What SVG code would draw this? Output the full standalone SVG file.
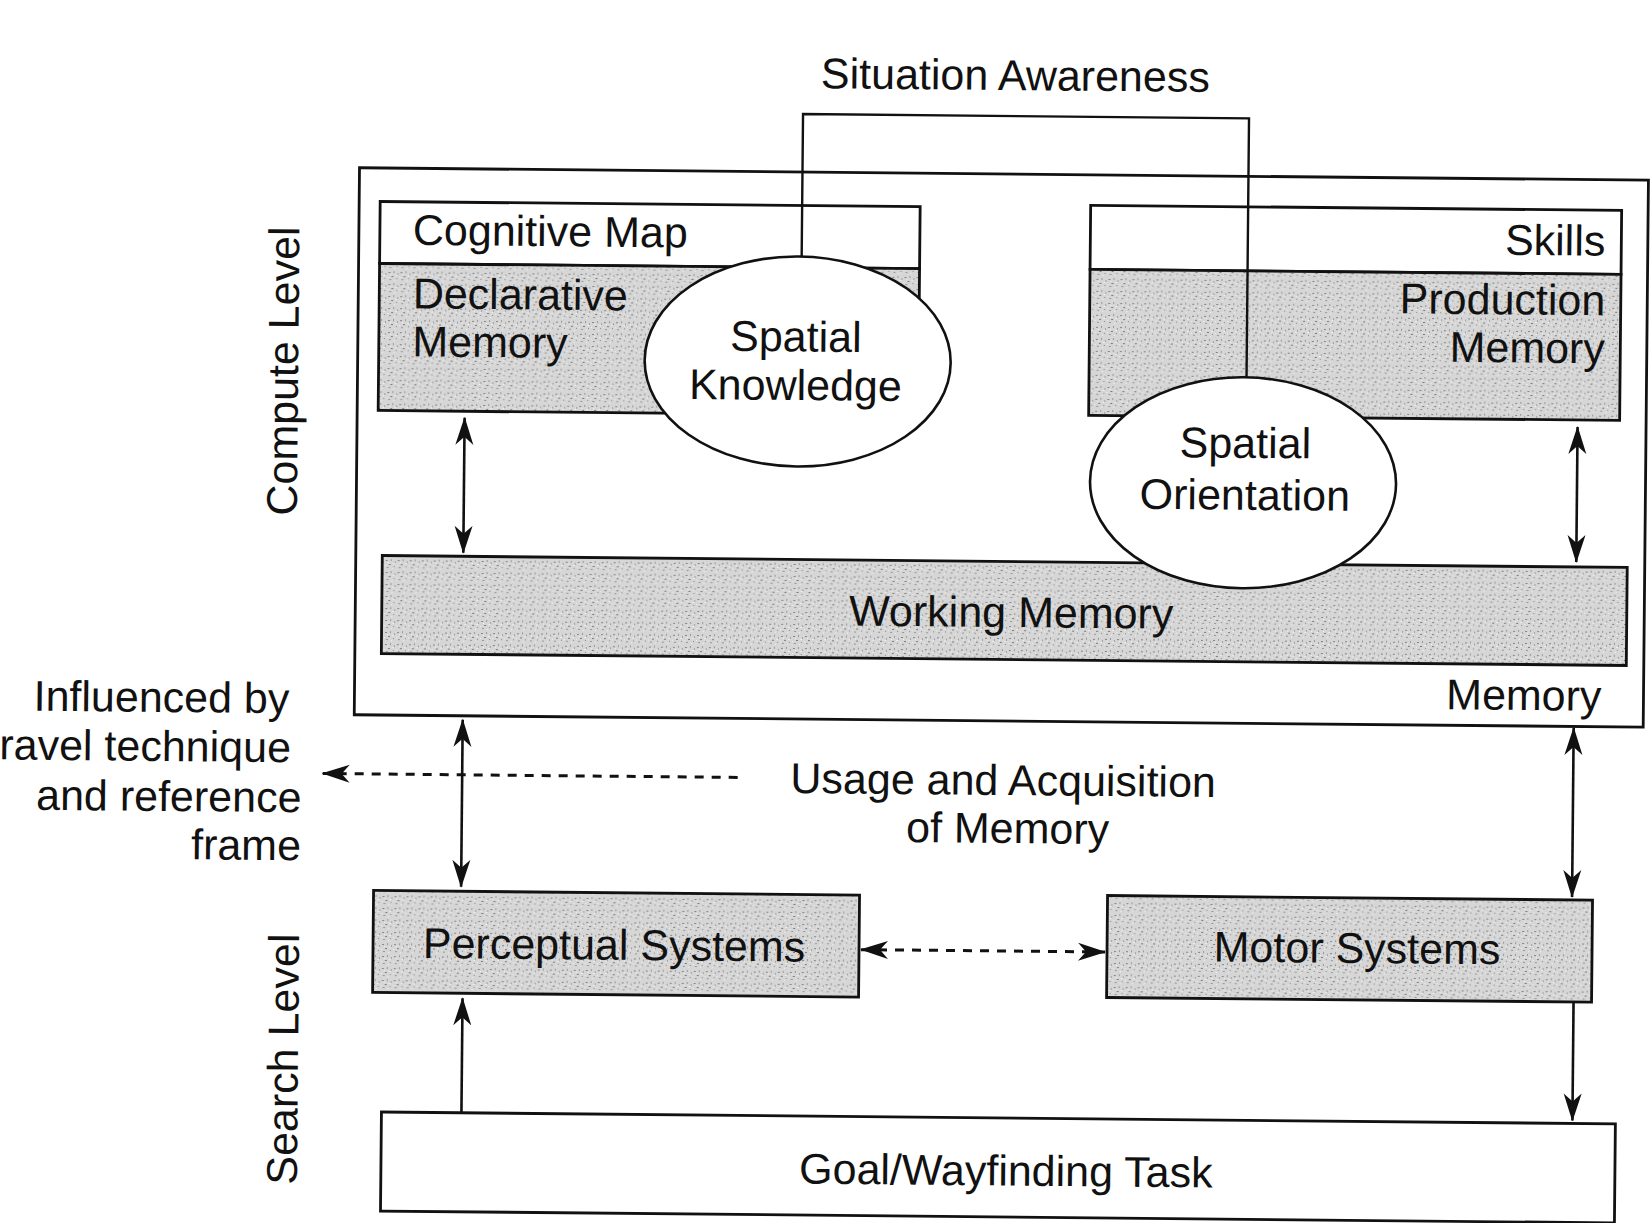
<svg xmlns="http://www.w3.org/2000/svg" width="1652" height="1223" viewBox="0 0 1652 1223">
  <style>
    .t { font-family: "Liberation Sans", Arial, Helvetica, sans-serif; font-size: 43px; fill: #111; }
    .mid { text-anchor: middle; }
    .end { text-anchor: end; }
    .box { stroke: #111; stroke-width: 2.8; }
    .white { fill: #fff; }
    .gray { fill: url(#speckle); }
    .ell { fill: #fff; stroke: #111; stroke-width: 2.6; }
    .line { fill: none; stroke: #111; stroke-width: 2.4; }
    .arrow { fill: none; stroke: #111; stroke-width: 2.6; marker-start: url(#head); marker-end: url(#head); }
    .one { fill: none; stroke: #111; stroke-width: 2.6; marker-end: url(#head); }
    .dash { fill: none; stroke: #111; stroke-width: 3; stroke-dasharray: 9 8; }
  </style>
  <defs>
    <pattern id="speckle" width="12" height="12" patternUnits="userSpaceOnUse">
      <rect width="12" height="12" fill="#d6d6d6"/>
      <rect x="1" y="2" width="2" height="1" fill="#858585"/>
      <rect x="6" y="1" width="1" height="2" fill="#999999"/>
      <rect x="4" y="6" width="2" height="1" fill="#7c7c7c"/>
      <rect x="9" y="8" width="1" height="1" fill="#8c8c8c"/>
      <rect x="10" y="3" width="1" height="2" fill="#a2a2a2"/>
      <rect x="2" y="9" width="2" height="1" fill="#979797"/>
      <rect x="7" y="10" width="1" height="1" fill="#f2f2f2"/>
      <rect x="3" y="4" width="1" height="1" fill="#f2f2f2"/>
      <rect x="8" y="5" width="2" height="1" fill="#ededed"/>
      <rect x="0" y="7" width="1" height="1" fill="#eeeeee"/>
    </pattern>
    <marker id="head" viewBox="0 0 28 20" markerWidth="28" markerHeight="20" refX="27" refY="10" orient="auto-start-reverse" markerUnits="userSpaceOnUse">
      <path d="M0,1 L28,10 L0,19 L8,10 Z" fill="#111"/>
    </marker>
  </defs>
  <rect width="1652" height="1223" fill="#fff"/>
  <g transform="rotate(0.55 1005 640)">
    <g id="memory">
      <rect class="box white" x="355" y="174" width="1289" height="547"/>
      <text class="t end" x="1602" y="705">Memory</text>
    </g>
    <g id="cognitive-map">
      <rect class="box white" x="376" y="207.5" width="540" height="62"/>
      <text class="t" x="409" y="250.5">Cognitive Map</text>
    </g>
    <g id="declarative-memory">
      <rect class="box gray" x="376" y="269.5" width="540" height="147"/>
      <text class="t" x="409.5" y="314">Declarative</text>
      <text class="t" x="409.5" y="362">Memory</text>
    </g>
    <g id="skills">
      <rect class="box white" x="1086.5" y="204.5" width="531" height="64"/>
      <text class="t end" x="1601.5" y="250">Skills</text>
    </g>
    <g id="production-memory">
      <rect class="box gray" x="1086.5" y="268.5" width="531" height="146"/>
      <text class="t end" x="1602" y="309.5">Production</text>
      <text class="t end" x="1602" y="357.5">Memory</text>
    </g>
    <g id="working-memory">
      <rect class="box gray" x="381.5" y="561.5" width="1245" height="98"/>
      <text class="t mid" x="1011" y="627">Working Memory</text>
    </g>
    <g id="connectors">
      <polyline class="line" points="798,262 798,116 1244,116 1244,378"/>
      <line class="arrow" x1="462.5" y1="423" x2="462.5" y2="558"/>
      <line class="arrow" x1="1575.5" y1="421.5" x2="1575.5" y2="556.5"/>
      <line class="arrow" x1="463.5" y1="725" x2="463.5" y2="892"/>
      <line class="arrow" x1="1574.5" y1="722.5" x2="1574.5" y2="891.5"/>
      <line class="dash" x1="864" y1="951" x2="1108" y2="951" marker-start="url(#head)" marker-end="url(#head)"/>
      <line class="dash" x1="739" y1="780" x2="324" y2="780" marker-end="url(#head)"/>
      <line class="one" x1="466" y1="1118" x2="466" y2="1003.5"/>
      <line class="one" x1="1577" y1="997.5" x2="1577" y2="1115"/>
    </g>
    <g id="spatial-knowledge">
      <ellipse class="ell" cx="795" cy="363.5" rx="153" ry="105"/>
      <text class="t mid" x="793" y="353.5">Spatial</text>
      <text class="t mid" x="793" y="402">Knowledge</text>
    </g>
    <g id="spatial-orientation">
      <ellipse class="ell" cx="1241.5" cy="480.5" rx="153" ry="105.5"/>
      <text class="t mid" x="1243.5" y="455.5">Spatial</text>
      <text class="t mid" x="1243.5" y="507.5">Orientation</text>
    </g>
    <g id="situation-awareness">
      <text class="t mid" x="1010" y="90">Situation Awareness</text>
    </g>
    <g id="usage-label">
      <text class="t mid" x="1004.5" y="795">Usage and Acquisition</text>
      <text class="t mid" x="1009.5" y="843">of Memory</text>
    </g>
    <g id="influence-label">
      <text class="t end" x="290" y="720">Influenced by</text>
      <text class="t end" x="292" y="769">ravel technique</text>
      <text class="t end" x="303" y="819">and reference</text>
      <text class="t end" x="303" y="867">frame</text>
    </g>
    <g id="perceptual-systems">
      <rect class="box gray" x="376" y="896.5" width="486" height="102"/>
      <text class="t mid" x="617" y="963.5">Perceptual Systems</text>
    </g>
    <g id="motor-systems">
      <rect class="box gray" x="1110" y="894.5" width="485" height="102"/>
      <text class="t mid" x="1360" y="959.5">Motor Systems</text>
    </g>
    <g id="goal-task">
      <rect class="box white" x="386" y="1118" width="1234" height="99"/>
      <text class="t mid" x="1011" y="1185.5">Goal/Wayfinding Task</text>
    </g>
    <g id="level-labels">
      <text class="t mid" transform="translate(295.5 378) rotate(-90)">Compute Level</text>
      <text class="t mid" transform="translate(302 1066) rotate(-90)">Search Level</text>
    </g>
  </g>
</svg>
